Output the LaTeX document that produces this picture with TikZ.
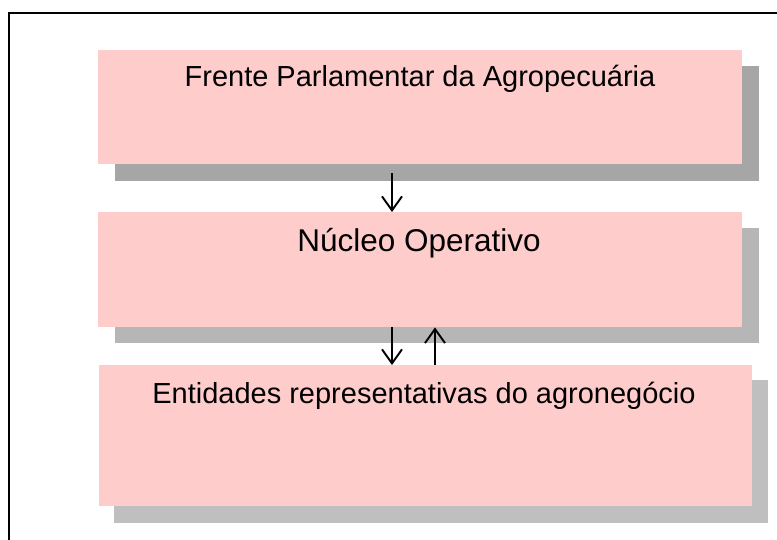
\documentclass[tikz,border=0pt]{standalone}
\usepackage{fontspec}
\setmainfont{Liberation Sans}
\usetikzlibrary{arrows.meta}
\definecolor{boxpink}{HTML}{FFCCCC}
\definecolor{shadowA}{HTML}{A6A6A6}
\definecolor{shadowB}{HTML}{B6B6B6}
\definecolor{shadowC}{HTML}{BFBFBF}
\tikzset{
  box/.style={rectangle, fill=boxpink, draw=none, inner sep=0pt, anchor=north west},
  shadowbox/.style={rectangle, draw=none, inner sep=0pt, anchor=north west},
  label1/.style={anchor=base, inner sep=0pt, font=\fontsize{29}{34}\selectfont},
  label2/.style={anchor=base, inner sep=0pt, font=\fontsize{31.5}{36}\selectfont},
  arr/.style={-{Straight Barb[length=14pt,width=20pt]}, line width=1.9pt, black},
}
\begin{document}
\begin{tikzpicture}[x=1pt,y=-1pt]
\useasboundingbox (0,0) rectangle (777,539);
% frame
\draw[line width=2pt] (9,540) -- (9,13) -- (778,13);
% shadows
\node[shadowbox, fill=shadowA, minimum width=644pt, minimum height=115pt] (s1) at (115,66) {};
\node[shadowbox, fill=shadowB, minimum width=644pt, minimum height=115pt] (s2) at (115,228) {};
\node[shadowbox, fill=shadowC, minimum width=654pt, minimum height=143pt] (s3) at (114,380) {};
% boxes
\node[box, minimum width=644pt, minimum height=114pt] (b1) at (98,50) {};
\node[box, minimum width=644pt, minimum height=115pt] (b2) at (98,212) {};
\node[box, minimum width=653pt, minimum height=141pt] (b3) at (99,365) {};
% texts
\node[label1] (t1) at (420,86) {Frente Parlamentar da Agropecuária};
\node[label2] (t2) at (419,251) {Núcleo Operativo};
\node[label1] (t3) at (424,403) {Entidades representativas do agronegócio};
% arrows
\draw[arr] ([xshift=294pt,yshift=-9pt]b1.south west) -- ([xshift=294pt]b2.north west);
\draw[arr] ([xshift=294pt]b2.south west) -- ([xshift=293pt]b3.north west);
\draw[arr] ([xshift=336pt]b3.north west) -- ([xshift=337pt]b2.south west);
\end{tikzpicture}
\end{document}
